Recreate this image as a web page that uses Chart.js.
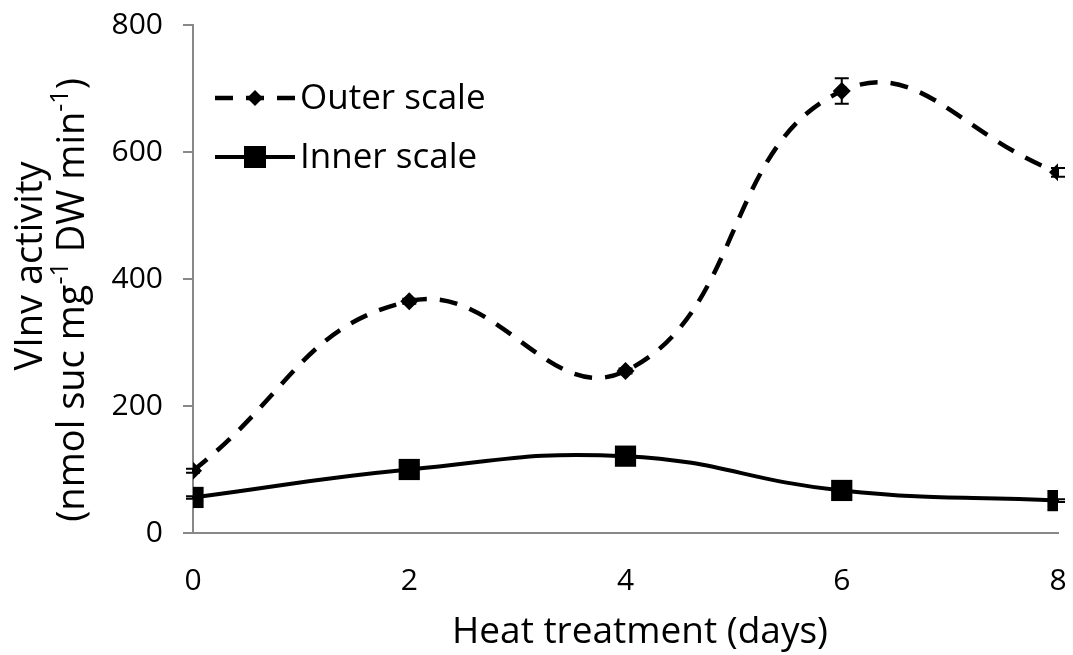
<!DOCTYPE html>
<html>
<head>
<meta charset="utf-8">
<script src="https://cdn.jsdelivr.net/npm/chart.js@4.4.1/dist/chart.umd.min.js"></script>
<style>
  html, body { margin: 0; padding: 0; background: #fff; overflow: hidden; }
  canvas { display: block; }
</style>
</head>
<body>
<canvas id="chart" width="1073" height="655"></canvas>
<script>
// heat treatment days
const days = [0, 2, 4, 6, 8];
const outerScale = [98, 365, 255, 696, 568];
const outerErr = [3, 4, 4, 20, 7];
const innerScale = [56, 100, 121, 67, 51];
const innerErr = [2, 3, 3, 3, 2];
const seriesLabels = ["Outer scale", "Inner scale"];
const xTicks = [0, 2, 4, 6, 8];
const yTicks = [0, 200, 400, 600, 800];
const xTitle = "Heat treatment (days)";

const FONT = "'Open Sans', Lato, sans-serif";
const AXIS_GRAY = "#888888";

const toPoints = (ys) => days.map((d, i) => ({ x: d, y: ys[i] }));

// error bars, drawn through the scales
const errorBars = {
  id: "errorBars",
  afterDatasetsDraw(chart) {
    const { ctx, scales: { x, y } } = chart;
    const errs = [outerErr, innerErr];
    ctx.save();
    ctx.strokeStyle = "#000";
    ctx.lineWidth = 2;
    chart.data.datasets.forEach((ds, di) => {
      ds.data.forEach((p, i) => {
        const e = errs[di][i];
        if (!e) return;
        const px = x.getPixelForValue(p.x);
        const top = y.getPixelForValue(p.y + e);
        const bot = y.getPixelForValue(p.y - e);
        ctx.beginPath();
        ctx.moveTo(px, top); ctx.lineTo(px, bot);
        ctx.moveTo(px - 7, top); ctx.lineTo(px + 7, top);
        ctx.moveTo(px - 7, bot); ctx.lineTo(px + 7, bot);
        ctx.stroke();
      });
    });
    ctx.restore();
  }
};

function marker(ctx, style, cx, cy, r) {
  ctx.beginPath();
  if (style === "rectRot") {
    ctx.moveTo(cx, cy - r); ctx.lineTo(cx + r, cy); ctx.lineTo(cx, cy + r); ctx.lineTo(cx - r, cy);
  } else {
    ctx.rect(cx - r, cy - r, 2 * r, 2 * r);
  }
  ctx.closePath();
  ctx.fill();
}

// legend in the top-left of the plot, line + marker + text
const insideLegend = {
  id: "insideLegend",
  afterDraw(chart) {
    const { ctx } = chart;
    const rows = [
      { y: 98, dash: [18, 13], style: "rectRot", r: 8, w: 4.5 },
      { y: 157, dash: [], style: "rect", r: 11, w: 4 }
    ];
    ctx.save();
    rows.forEach((row, i) => {
      ctx.strokeStyle = "#000";
      ctx.fillStyle = "#000";
      ctx.lineWidth = row.w;
      ctx.setLineDash(row.dash);
      ctx.beginPath();
      ctx.moveTo(215, row.y); ctx.lineTo(295, row.y);
      ctx.stroke();
      ctx.setLineDash([]);
      marker(ctx, row.style, 255, row.y, row.r);
      ctx.font = "35px " + FONT;
      ctx.textAlign = "left";
      ctx.textBaseline = "middle";
      ctx.fillText(seriesLabels[i], 300, row.y + 1);
    });
    ctx.restore();
  }
};

// axis titles: two-line rotated y title with superscripts, x title below
const axisTitles = {
  id: "axisTitles",
  afterDraw(chart) {
    const { ctx } = chart;
    const lines = [
      { x: 31, cy: 266, parts: [["VInv activity", false]] },
      { x: 73, cy: 300, parts: [["(nmol suc mg", false], ["-1", true], [" DW min", false], ["-1", true], [")", false]] }
    ];
    ctx.save();
    ctx.fillStyle = "#000";
    ctx.textBaseline = "middle";
    ctx.textAlign = "left";
    lines.forEach((line) => {
      let total = 0;
      line.parts.forEach(([t, sup]) => {
        ctx.font = (sup ? "25px " : "38px ") + FONT;
        total += ctx.measureText(t).width;
      });
      ctx.save();
      ctx.translate(line.x, line.cy);
      ctx.rotate(-Math.PI / 2);
      let pos = -total / 2;
      line.parts.forEach(([t, sup]) => {
        ctx.font = (sup ? "25px " : "38px ") + FONT;
        ctx.fillText(t, pos, sup ? -12 : 0);
        pos += ctx.measureText(t).width;
      });
      ctx.restore();
    });
    ctx.font = "37px " + FONT;
    ctx.textAlign = "center";
    ctx.fillText(xTitle, 640, 632);
    ctx.restore();
  }
};

new Chart(document.getElementById("chart"), {
  type: "scatter",
  data: {
    datasets: [
      {
        label: seriesLabels[0],
        data: toPoints(outerScale),
        showLine: true,
        tension: 0.45,
        borderColor: "#000",
        borderWidth: 4.5,
        borderDash: [18, 13],
        pointStyle: "rectRot",
        pointRadius: 9,
        pointBackgroundColor: "#000",
        pointBorderWidth: 0
      },
      {
        label: seriesLabels[1],
        data: toPoints(innerScale),
        showLine: true,
        tension: 0.45,
        borderColor: "#000",
        borderWidth: 4,
        pointStyle: "rect",
        pointRadius: 15,
        pointBackgroundColor: "#000",
        pointBorderWidth: 0
      }
    ]
  },
  options: {
    responsive: false,
    animation: false,
    devicePixelRatio: 1,
    layout: { padding: { top: 25, right: 13, left: 0, bottom: 0 } },
    plugins: { legend: { display: false }, tooltip: { enabled: false } },
    scales: {
      x: {
        type: "linear",
        min: 0,
        max: 8,
        afterBuildTicks: (s) => { s.ticks = xTicks.map((v) => ({ value: v })); },
        afterFit: (s) => { s.height = 122; s.paddingLeft = 0; s.paddingRight = 0; },
        grid: { display: false },
        border: { color: AXIS_GRAY, width: 2 },
        ticks: { color: "#000", font: { family: FONT, size: 30 }, padding: 22 }
      },
      y: {
        min: 0,
        max: 800,
        afterBuildTicks: (s) => { s.ticks = yTicks.map((v) => ({ value: v })); },
        afterFit: (s) => { s.width = 193; s.paddingTop = 0; s.paddingBottom = 0; },
        grid: { drawOnChartArea: false, drawTicks: true, tickLength: 10, color: AXIS_GRAY, lineWidth: 2 },
        border: { color: AXIS_GRAY, width: 2 },
        ticks: { color: "#000", font: { family: FONT, size: 30 }, padding: 20 }
      }
    }
  },
  plugins: [errorBars, insideLegend, axisTitles]
});
</script>
</body>
</html>
